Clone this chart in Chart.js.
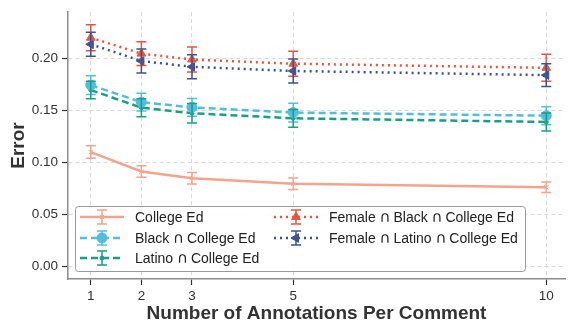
<!DOCTYPE html>
<html>
<head>
<meta charset="utf-8" />
<script src="https://cdn.jsdelivr.net/npm/chart.js@4.4.0/dist/chart.umd.min.js"></script>
<style>
  body{margin:0;background:#fff;}
  #wrap{width:571px;height:329px;position:relative;}
</style>
</head>
<body>
<div id="wrap"><canvas id="chart"></canvas></div>
<script>
// annotations per comment
const xVals = [1, 2, 3, 5, 10];
const yTicks = [0, 0.05, 0.10, 0.15, 0.20];

const labels = ['College Ed', 'Black \u2229 College Ed', 'Latino \u2229 College Ed',
                'Female \u2229 Black \u2229 College Ed', 'Female \u2229 Latino \u2229 College Ed'];

const collegeEd    = [0.110, 0.0914, 0.0848, 0.0796, 0.0762];
const blackCol     = [0.1744, 0.158, 0.153, 0.148, 0.145];
const latinoCol    = [0.1697, 0.1527, 0.1474, 0.1425, 0.139];
const femBlackCol  = [0.220, 0.2047, 0.199, 0.195, 0.191];
const femLatinoCol = [0.2137, 0.1976, 0.192, 0.188, 0.184];

// half widths of the error bars
const errCollege   = [0.006, 0.0055, 0.0055, 0.0055, 0.005];
const errBlack     = [0.009, 0.0085, 0.0085, 0.009, 0.0086];
const errLatino    = [0.0085, 0.0087, 0.0094, 0.0085, 0.0087];
const errFemBlack  = [0.0125, 0.0115, 0.012, 0.012, 0.013];
const errFemLatino = [0.0115, 0.0116, 0.0115, 0.0115, 0.011];

const FONT = "'Liberation Sans', Arial, sans-serif";

function mk(label, vals, errs, col, dash, width, pstyle, prad, rot){
  return {
    label, errs,
    data: xVals.map((x,i)=>({x, y: vals[i]})),
    borderColor: col, backgroundColor: col,
    borderWidth: width, borderDash: dash,
    pointStyle: pstyle, pointRadius: prad, pointRotation: rot || 0,
    pointBorderColor: col, pointBackgroundColor: col, pointBorderWidth: 1,
    tension: 0
  };
}

const datasets = [
  mk(labels[0], collegeEd, errCollege, '#f4a48c', [], 2.5, 'crossRot', 3),
  mk(labels[1], blackCol, errBlack, '#52bedb', [7,4], 2.5, 'circle', 5),
  mk(labels[2], latinoCol, errLatino, '#17a184', [7,4], 2.5, 'circle', 2),
  mk(labels[3], femBlackCol, errFemBlack, '#e8553f', [2,4], 2.5, 'triangle', 5),
  mk(labels[4], femLatinoCol, errFemLatino, '#3d5291', [2,4], 2.5, 'triangle', 5, -90)
];

const errorBars = {
  id: 'errorBars',
  afterDatasetsDraw(chart){
    const {ctx, scales:{x, y}} = chart;
    ctx.save();
    chart.data.datasets.forEach(ds=>{
      ctx.strokeStyle = ds.borderColor;
      ctx.lineWidth = 1.5;
      ctx.setLineDash([]);
      ds.data.forEach((p,i)=>{
        const px = x.getPixelForValue(p.x);
        const top = y.getPixelForValue(p.y + ds.errs[i]);
        const bot = y.getPixelForValue(p.y - ds.errs[i]);
        ctx.beginPath();
        ctx.moveTo(px, top); ctx.lineTo(px, bot);
        ctx.moveTo(px-5, top); ctx.lineTo(px+5, top);
        ctx.moveTo(px-5, bot); ctx.lineTo(px+5, bot);
        ctx.stroke();
      });
    });
    ctx.restore();
  }
};

// label text, with a larger ∩ sign as in the source figure
function drawLabel(ctx, text, x, y){
  const parts = text.split('\u2229');
  const main = '14px ' + FONT, sym = "15px 'DejaVu Sans'";
  parts.forEach((p,i)=>{
    ctx.font = main;
    ctx.fillText(p, x, y);
    x += ctx.measureText(p).width;
    if(i < parts.length-1){
      ctx.font = sym;
      ctx.fillText('\u2229', x, y + 0.5);
      x += ctx.measureText('\u2229').width - 1;
    }
  });
}

// two-column legend box like matplotlib's
const boxLegend = {
  id: 'boxLegend',
  afterDraw(chart){
    const ctx = chart.ctx;
    const L = 75, T = 206, R = 525, B = 271;
    ctx.save();
    ctx.fillStyle = 'rgba(255,255,255,0.9)';
    ctx.strokeStyle = '#9a9a9a';
    ctx.lineWidth = 1;
    ctx.beginPath();
    ctx.roundRect(L+0.5, T+0.5, R-L, B-T, 3);
    ctx.fill(); ctx.stroke();
    const slots = [[80,217],[80,238],[80,258],[274,217],[274,238]];
    ctx.textBaseline = 'middle';
    chart.data.datasets.forEach((ds,i)=>{
      const [sx, sy] = slots[i];
      const mx = sx + 22;
      ctx.strokeStyle = ds.borderColor;
      ctx.fillStyle = ds.borderColor;
      ctx.lineWidth = ds.borderWidth;
      ctx.setLineDash(ds.borderDash);
      ctx.beginPath(); ctx.moveTo(sx, sy); ctx.lineTo(sx+44, sy); ctx.stroke();
      ctx.setLineDash([]);
      ctx.lineWidth = 1.5;
      ctx.beginPath();
      ctx.moveTo(mx, sy-7); ctx.lineTo(mx, sy+7);
      ctx.moveTo(mx-5, sy-7); ctx.lineTo(mx+5, sy-7);
      ctx.moveTo(mx-5, sy+7); ctx.lineTo(mx+5, sy+7);
      ctx.stroke();
      ctx.lineWidth = 1;
      Chart.helpers.drawPoint(ctx, {
        pointStyle: ds.pointStyle, rotation: ds.pointRotation,
        radius: ds.pointRadius, borderWidth: 1
      }, mx, sy);
      ctx.fillStyle = '#222';
      drawLabel(ctx, ds.label, sx + 55, sy + 1);
    });
    ctx.restore();
  }
};

new Chart(document.getElementById('chart'), {
  type: 'line',
  data: { datasets },
  plugins: [errorBars, boxLegend],
  options: {
    responsive: true, maintainAspectRatio: false, animation: false,
    layout: { padding: { top: 3, right: 0, left: 0, bottom: 0 } },
    plugins: { legend: { display: false }, tooltip: { enabled: false } },
    scales: {
      x: {
        type: 'linear', min: 0.55, max: 10.37,
        afterBuildTicks: a => { a.ticks = xVals.map(v=>({value:v})); },
        afterFit: a => { a.height = 50; },
        grid: { color: '#d9d9d9', lineWidth: 1, tickColor: '#333', tickLength: 6, tickWidth: 1.2, tickBorderDash: [] },
        border: { display: true, color: '#8c8c8c', width: 1.5, dash: [4,3] },
        ticks: { color: '#333', font: { size: 13.5, family: FONT }, padding: 3, maxRotation: 0 },
        title: { display: true, text: 'Number of Annotations Per Comment', color: '#333',
                 font: { size: 19, weight: 'bold', family: FONT }, padding: { top: 0 } }
      },
      y: {
        min: -0.012, max: 0.2446,
        afterBuildTicks: a => { a.ticks = yTicks.map(v=>({value:v})); },
        afterFit: a => { a.width = 68; },
        grid: { color: '#d9d9d9', lineWidth: 1, tickColor: '#333', tickLength: 6, tickWidth: 1.2, tickBorderDash: [] },
        border: { display: true, color: '#8c8c8c', width: 1.5, dash: [4,3] },
        ticks: { color: '#333', font: { size: 13.5, family: FONT }, padding: 4,
                 callback: v => v.toFixed(2) },
        title: { display: true, text: 'Error', color: '#333',
                 font: { size: 19, weight: 'bold', family: FONT }, padding: { top: 7, bottom: 0 } }
      }
    }
  }
});
</script>
</body>
</html>
